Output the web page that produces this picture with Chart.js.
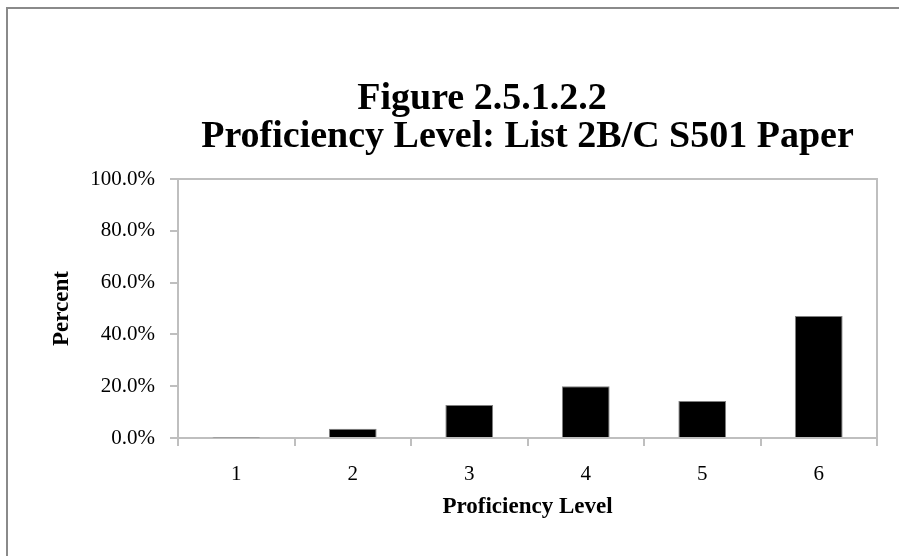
<!DOCTYPE html>
<html>
<head>
<meta charset="utf-8">
<script src="https://cdn.jsdelivr.net/npm/chart.js@4/dist/chart.umd.min.js"></script>
<style>
  body { margin: 0; background: #fff; }
  #wrap { position: relative; width: 899px; height: 556px; overflow: hidden; }
  #frame { position: absolute; left: 6px; top: 7px; width: 1000px; height: 1000px;
           border: 2px solid #8a8a8a; box-sizing: border-box; pointer-events: none; }
</style>
</head>
<body>
<div id="wrap">
  <canvas id="chart" width="899" height="556"></canvas>
  <div id="frame"></div>
</div>
<script>
const titleLines = ['Figure 2.5.1.2.2', 'Proficiency Level: List 2B/C S501 Paper'];
const levels = ['1', '2', '3', '4', '5', '6'];
const percents = [0.2, 3.6, 12.7, 20.0, 14.3, 47.1];
const yTicks = [0, 20, 40, 60, 80, 100];

const axisGray = '#bfbfbf';
const serif = '"Liberation Serif", "Times New Roman", serif';

// two-line title, the second line centred over the plot area
const titlePlugin = {
    id: 'figTitle',
    afterDraw(chart) {
        const ctx = chart.ctx;
        const area = chart.chartArea;
        ctx.save();
        ctx.fillStyle = '#000';
        ctx.textAlign = 'center';
        ctx.textBaseline = 'alphabetic';
        ctx.font = 'bold 38px ' + serif;
        ctx.fillText(titleLines[0], 482, 109);
        ctx.fillText(titleLines[1], (area.left + area.right) / 2, 147);
        ctx.restore();
    }
};

// light box round the plot area
const boxPlugin = {
    id: 'plotBox',
    beforeDatasetsDraw(chart) {
        const ctx = chart.ctx;
        const a = chart.chartArea;
        ctx.save();
        ctx.strokeStyle = axisGray;
        ctx.lineWidth = 2;
        ctx.strokeRect(a.left, a.top, a.right - a.left, a.bottom - a.top);
        ctx.restore();
    }
};

new Chart(document.getElementById('chart').getContext('2d'), {
    type: 'bar',
    data: {
        labels: levels,
        datasets: [{
            data: percents,
            backgroundColor: '#000',
            borderColor: '#808080',
            borderWidth: 1,
            barPercentage: 0.41,
            categoryPercentage: 1.0,
        }],
    },
    options: {
        responsive: false,
        animation: false,
        layout: { padding: { top: 179, left: 44, right: 22, bottom: 30 } },
        plugins: {
            legend: { display: false },
            tooltip: { enabled: false },
        },
        scales: {
            x: {
                afterFit(axis) { axis.height = 88; },
                grid: { drawOnChartArea: false, drawTicks: true, tickLength: 8, color: axisGray, lineWidth: 2 },
                border: { color: axisGray, width: 2 },
                ticks: { color: '#000', padding: 16, font: { family: serif, size: 21 } },
                title: { display: true, text: 'Proficiency Level', color: '#000', padding: { top: 4, bottom: 5 },
                         font: { family: serif, size: 23, weight: 'bold' } },
            },
            y: {
                min: 0,
                max: 100,
                afterFit(axis) { axis.width = 134; },
                afterBuildTicks(axis) { axis.ticks = yTicks.map(v => ({ value: v })); },
                grid: { drawOnChartArea: false, drawTicks: true, tickLength: 8, color: axisGray, lineWidth: 2 },
                border: { color: axisGray, width: 2 },
                ticks: {
                    color: '#000', padding: 15,
                    font: { family: serif, size: 21 },
                    callback: v => v.toFixed(1) + '%',
                },
                title: { display: true, text: 'Percent', color: '#000', padding: { top: 4, bottom: 4 },
                         font: { family: serif, size: 23, weight: 'bold' } },
            },
        },
    },
    plugins: [boxPlugin, titlePlugin],
});
</script>
</body>
</html>
